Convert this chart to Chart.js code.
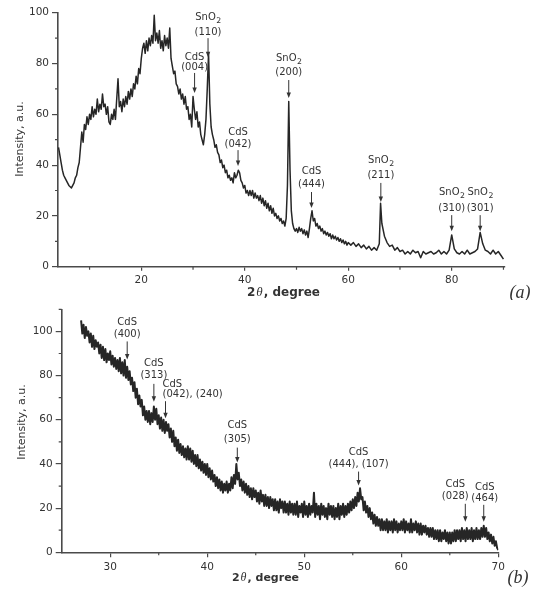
<!DOCTYPE html>
<html>
<head>
<meta charset="utf-8">
<script src="https://cdn.jsdelivr.net/npm/chart.js@4.4.1/dist/chart.umd.min.js"></script>
<style>
  body { margin: 0; background: #fff; }
  #wrap { position: relative; width: 543px; height: 594px; }
  canvas { position: absolute; left: 0; }
</style>
</head>
<body>
<div id="wrap">
  <canvas id="xrdA" width="543" height="300" style="top:0"></canvas>
  <canvas id="xrdB" width="543" height="294" style="top:300px"></canvas>
</div>
<script>
// ---- panel (a): 2theta 4..90 ----
const aTwoTheta = [
  4, 4.25, 4.5, 4.75, 5, 5.25, 5.5, 5.75,
  6, 6.25, 6.5, 6.75, 7, 7.25, 7.5, 7.75,
  8, 8.25, 8.5, 8.75, 9, 9.25, 9.5, 9.75,
  10, 10.25, 10.5, 10.75, 11, 11.25, 11.5, 11.75,
  12, 12.25, 12.5, 12.75, 13, 13.25, 13.5, 13.75,
  14, 14.25, 14.5, 14.75, 15, 15.25, 15.5, 15.75,
  16, 16.25, 16.5, 16.75, 17, 17.25, 17.5, 17.75,
  18, 18.25, 18.5, 18.75, 19, 19.25, 19.5, 19.75,
  20, 20.25, 20.5, 20.75, 21, 21.25, 21.5, 21.75,
  22, 22.25, 22.5, 22.75, 23, 23.25, 23.5, 23.75,
  24, 24.25, 24.5, 24.75, 25, 25.25, 25.5, 25.75,
  26, 26.25, 26.5, 26.75, 27, 27.25, 27.5, 27.75,
  28, 28.25, 28.5, 28.75, 29, 29.25, 29.5, 29.75,
  30, 30.25, 30.5, 30.75, 31, 31.25, 31.5, 31.75,
  32, 32.25, 32.5, 32.75, 33, 33.25, 33.5, 33.75,
  34, 34.25, 34.5, 34.75, 35, 35.25, 35.5, 35.75,
  36, 36.25, 36.5, 36.75, 37, 37.25, 37.5, 37.75,
  38, 38.25, 38.5, 38.75, 39, 39.25, 39.5, 39.75,
  40, 40.25, 40.5, 40.75, 41, 41.25, 41.5, 41.75,
  42, 42.25, 42.5, 42.75, 43, 43.25, 43.5, 43.75,
  44, 44.25, 44.5, 44.75, 45, 45.25, 45.5, 45.75,
  46, 46.25, 46.5, 46.75, 47, 47.25, 47.5, 47.75,
  48, 48.25, 48.5, 48.75, 49, 49.25, 49.5, 49.75,
  50, 50.25, 50.5, 50.75, 51, 51.25, 51.5, 51.75,
  52, 52.25, 52.5, 52.75, 53, 53.25, 53.5, 53.75,
  54, 54.25, 54.5, 54.75, 55, 55.25, 55.5, 55.75,
  56, 56.25, 56.5, 56.75, 57, 57.25, 57.5, 57.75,
  58, 58.25, 58.5, 58.75, 59, 59.25, 59.5, 59.75,
  60, 60.5, 61, 61.5, 62, 62.5, 63, 63.5, 64, 64.5, 65, 65.5, 66, 66.25,
  66.5, 67, 67.5, 68, 68.5, 69, 69.5, 70, 70.5, 71,
  71.5, 72, 72.5, 73, 73.5, 74, 74.5, 75, 75.5, 76,
  76.5, 77, 77.5, 78, 78.5, 79, 79.5, 80, 80.5, 81,
  81.5, 82, 82.5, 83, 83.5, 84, 84.5, 85, 85.5, 86,
  86.5, 87, 87.5, 88, 88.5, 89, 89.5, 90
];
const aIntensity = [
  47, 44, 41, 38, 36, 35, 34, 33,
  32, 31.5, 31, 32, 33, 35, 36, 39,
  41, 47, 53, 49, 56, 54, 59, 56,
  60, 58, 63, 59, 62, 60, 66, 61,
  64, 62, 68, 63, 64, 60, 63, 57,
  56, 60, 58, 62, 58, 66, 74, 63,
  65, 61, 66, 63, 67, 64, 69, 66,
  70, 67, 72, 70, 75, 72, 78, 76,
  82, 86, 88, 84, 89, 85, 90, 87,
  91, 88, 99, 89, 92, 88, 93, 86,
  89, 85, 91, 87, 90, 86, 94, 82,
  79, 76, 77, 72, 71, 68, 70, 66,
  68, 64, 67, 62, 63, 58, 60, 55,
  67, 62, 58, 61, 55, 57, 52, 50,
  48, 52, 58, 70, 84, 64, 55, 52,
  50, 47, 48, 45, 44, 41, 42, 39,
  40, 37, 38, 35, 36, 34, 35, 33,
  37, 35, 36, 38, 37, 34, 33, 31,
  32, 29, 30, 28, 30, 28, 30, 27,
  29, 27, 28, 26, 28, 25, 27, 24,
  26, 23, 25, 22, 24, 21, 23, 20,
  21, 19, 20, 18, 19, 17, 18, 16,
  19, 32, 65, 38, 22, 17, 15, 14,
  15, 13.5, 15.5, 14, 15, 13, 14.5, 12.5,
  14, 11.5, 15, 19, 22, 18, 19, 16,
  17, 15, 16, 14, 15, 13, 14, 12.5,
  13.5, 12, 13, 11, 12.5, 11, 12, 10.5,
  11.5, 10, 11, 9.5, 10.5, 9, 10, 8.5,
  9.5, 8.5, 9.5, 8, 9, 7.5, 8.5, 7, 8, 6.5, 7.5, 6.5, 9, 25,
  17, 12, 9.5, 8, 8.5, 6.5, 7.5, 6, 6.5, 5,
  6, 5, 6.5, 5.5, 6, 3.5, 6, 5, 5.5, 6,
  5, 5.5, 6.5, 5, 6, 5, 6.5, 12.5, 7, 5.5,
  5, 6, 5, 6.5, 5, 5.5, 6, 7, 13.5, 9,
  6.5, 6, 5, 6.5, 5, 6, 4.5, 3
];
const aXTicks = [20, 40, 60, 80];
const aXMinor = [10, 30, 50, 70, 90];
const aYTicks = [0, 20, 40, 60, 80, 100];
const aYMinor = [10, 30, 50, 70, 90];
const aPeakNames = [
  ['SnO_2', '(110)'], ['CdS', '(004)'], ['CdS', '(042)'], ['SnO_2', '(200)'],
  ['CdS', '(444)'], ['SnO_2', '(211)'], ['SnO_2', '(310)'], ['SnO_2', '(301)']
];
const aPeakPos = [32.9, 30.3, 38.7, 48.5, 52.9, 66.3, 80.0, 85.5];
const aPeakTip = [82.5, 68.4, 39.6, 66.4, 23.1, 25.5, 14.0, 14.0];

// ---- panel (b): 2theta 25..70 ----
const bTwoTheta = [
  27, 27.125, 27.25, 27.375, 27.5, 27.625, 27.75, 27.875,
  28, 28.125, 28.25, 28.375, 28.5, 28.625, 28.75, 28.875,
  29, 29.125, 29.25, 29.375, 29.5, 29.625, 29.75, 29.875,
  30, 30.125, 30.25, 30.375, 30.5, 30.625, 30.75, 30.875,
  31, 31.125, 31.25, 31.375, 31.5, 31.625, 31.75, 31.875,
  32, 32.125, 32.25, 32.375, 32.5, 32.625, 32.75, 32.875,
  33, 33.125, 33.25, 33.375, 33.5, 33.625, 33.75, 33.875,
  34, 34.125, 34.25, 34.375, 34.5, 34.625, 34.75, 34.875,
  35, 35.125, 35.25, 35.375, 35.5, 35.625, 35.75, 35.875,
  36, 36.125, 36.25, 36.375, 36.5, 36.625, 36.75, 36.875,
  37, 37.125, 37.25, 37.375, 37.5, 37.625, 37.75, 37.875,
  38, 38.125, 38.25, 38.375, 38.5, 38.625, 38.75, 38.875,
  39, 39.125, 39.25, 39.375, 39.5, 39.625, 39.75, 39.875,
  40, 40.125, 40.25, 40.375, 40.5, 40.625, 40.75, 40.875,
  41, 41.125, 41.25, 41.375, 41.5, 41.625, 41.75, 41.875,
  42, 42.125, 42.25, 42.375, 42.5, 42.625, 42.75, 42.875,
  43, 43.125, 43.25, 43.375, 43.5, 43.625, 43.75, 43.875,
  44, 44.125, 44.25, 44.375, 44.5, 44.625, 44.75, 44.875,
  45, 45.125, 45.25, 45.375, 45.5, 45.625, 45.75, 45.875,
  46, 46.125, 46.25, 46.375, 46.5, 46.625, 46.75, 46.875,
  47, 47.125, 47.25, 47.375, 47.5, 47.625, 47.75, 47.875,
  48, 48.125, 48.25, 48.375, 48.5, 48.625, 48.75, 48.875,
  49, 49.125, 49.25, 49.375, 49.5, 49.625, 49.75, 49.875,
  50, 50.125, 50.25, 50.375, 50.5, 50.625, 50.75, 50.875,
  51, 51.125, 51.25, 51.375, 51.5, 51.625, 51.75, 51.875,
  52, 52.125, 52.25, 52.375, 52.5, 52.625, 52.75, 52.875,
  53, 53.125, 53.25, 53.375, 53.5, 53.625, 53.75, 53.875,
  54, 54.125, 54.25, 54.375, 54.5, 54.625, 54.75, 54.875,
  55, 55.125, 55.25, 55.375, 55.5, 55.625, 55.75, 55.875,
  56, 56.125, 56.25, 56.375, 56.5, 56.625, 56.75, 56.875,
  57, 57.125, 57.25, 57.375, 57.5, 57.625, 57.75, 57.875,
  58, 58.125, 58.25, 58.375, 58.5, 58.625, 58.75, 58.875,
  59, 59.125, 59.25, 59.375, 59.5, 59.625, 59.75, 59.875,
  60, 60.125, 60.25, 60.375, 60.5, 60.625, 60.75, 60.875,
  61, 61.125, 61.25, 61.375, 61.5, 61.625, 61.75, 61.875,
  62, 62.125, 62.25, 62.375, 62.5, 62.625, 62.75, 62.875,
  63, 63.125, 63.25, 63.375, 63.5, 63.625, 63.75, 63.875,
  64, 64.125, 64.25, 64.375, 64.5, 64.625, 64.75, 64.875,
  65, 65.125, 65.25, 65.375, 65.5, 65.625, 65.75, 65.875,
  66, 66.125, 66.25, 66.375, 66.5, 66.625, 66.75, 66.875,
  67, 67.125, 67.25, 67.375, 67.5, 67.625, 67.75, 67.875,
  68, 68.125, 68.25, 68.375, 68.5, 68.625, 68.75, 68.875,
  69, 69.125, 69.25, 69.375, 69.5, 69.625, 69.75, 69.875,
  70
];
const bIntensity = [
  105, 99, 103, 97, 102, 98, 100, 95,
  99, 93, 98, 92, 96, 93, 95, 90,
  94, 88, 93, 87, 92, 86, 90, 87,
  91, 85, 89, 84, 88, 83, 87, 82,
  88, 81, 86, 80, 87, 79, 84, 78,
  82, 76, 79, 73, 77, 70, 74, 67,
  71, 66, 69, 62, 66, 60, 64, 59,
  64, 58, 63, 59, 66, 60, 65, 58,
  62, 56, 61, 55, 60, 54, 59, 55,
  58, 52, 56, 50, 55, 48, 52, 46,
  51, 45, 49, 44, 48, 43, 47, 42,
  48, 42, 47, 41, 46, 40, 44, 39,
  44, 38, 42, 37, 41, 36, 40, 35,
  40, 34, 38, 33, 37, 32, 35, 30,
  34, 29, 33, 28, 32, 27, 31, 28,
  32, 27, 31, 28, 34, 29, 35, 31,
  40, 33, 36, 30, 33, 28, 32, 27,
  31, 26, 30, 25, 29, 24, 29, 25,
  28, 23, 27, 22, 28, 23, 26, 21,
  26, 21, 25, 20, 25, 21, 24, 19,
  24, 19, 23, 18, 24, 20, 23, 18,
  23, 18, 22, 17, 23, 18, 22, 17,
  22, 17, 23, 16, 21, 18, 22, 16,
  23, 17, 21, 16, 22, 17, 21, 18,
  27, 16, 22, 17, 21, 15, 22, 17,
  21, 16, 20, 15, 22, 17, 21, 16,
  21, 15, 20, 16, 22, 15, 21, 17,
  22, 16, 21, 17, 22, 18, 23, 19,
  24, 20, 25, 21, 27, 23, 29, 24,
  25, 19, 23, 18, 21, 16, 20, 15,
  18, 13, 17, 12, 16, 12, 15, 10,
  15, 10, 14, 10, 15, 9, 14, 10,
  14, 9, 15, 10, 14, 9, 13, 10,
  14, 10, 15, 9, 14, 10, 13, 9,
  15, 9, 13, 10, 14, 9, 13, 8,
  13, 8, 12, 9, 12, 8, 11, 7,
  11, 7, 11, 6, 10, 6, 10, 5,
  10, 5, 9, 6, 10, 5, 9, 4,
  9, 4, 9, 5, 10, 5, 10, 6,
  10, 5, 11, 6, 10, 5, 11, 6,
  10, 6, 11, 5, 10, 6, 11, 6,
  10, 6, 11, 7, 12, 7, 11, 6,
  9, 5, 8, 4, 7, 3, 5, 2,
  1
];
const bXTicks = [30, 40, 50, 60, 70];
const bXMinor = [35, 45, 55, 65];
const bYTicks = [0, 20, 40, 60, 80, 100];
const bYMinor = [10, 30, 50, 70, 90, 110];
const bPeakNames = [
  ['CdS', '(400)'], ['CdS', '(313)'], ['CdS', '(042), (240)'], ['CdS', '(305)'],
  ['CdS', '(444), (107)'], ['CdS', '(028)'], ['CdS', '(464)']
];
const bPeakPos = [31.75, 34.5, 35.7, 43.1, 55.6, 66.6, 68.5];
const bPeakTip = [87.3, 68.1, 60.7, 40.6, 30.2, 13.8, 13.8];

// label layout (pixels): arrow length, gap above arrow, line spacing, text shift
const aPeakLayout = [
  {len: 19, gap: 6, sp: 15}, {len: 20, gap: 6, sp: 10}, {len: 16, gap: 6, sp: 12},
  {len: 18, gap: 8, sp: 14}, {len: 16, gap: 8, sp: 13}, {len: 19, gap: 8, sp: 15},
  {len: 16, gap: 7, sp: 16}, {len: 16, gap: 7, sp: 16}
];
const bPeakLayout = [
  {len: 18, gap: 7, sp: 12.5}, {len: 18, gap: 8, sp: 12.5},
  {len: 17, gap: 7, sp: 10, align: 'left', dx: -3}, {len: 15, gap: 8, sp: 14},
  {len: 14, gap: 7, sp: 12.5}, {len: 18, gap: 7, sp: 12.5, dx: -10},
  {len: 17, gap: 6, sp: 11, dx: 1}
];

const AXIS = '#4a4a4a';
const INK = '#333';
const SANS = '"DejaVu Sans", sans-serif';

function drawSub(ctx, str, x, y, size, align) {
  const [main, sub] = str.split('_');
  ctx.font = size + 'px ' + SANS;
  const wm = ctx.measureText(main).width;
  ctx.font = (size * 0.78) + 'px ' + SANS;
  const ws = sub ? ctx.measureText(sub).width : 0;
  const x0 = align === 'left' ? x : x - (wm + ws) / 2;
  ctx.textAlign = 'left';
  ctx.textBaseline = 'middle';
  ctx.font = size + 'px ' + SANS;
  ctx.fillText(main, x0, y);
  if (sub) {
    ctx.font = (size * 0.78) + 'px ' + SANS;
    ctx.fillText(sub, x0 + wm + 0.5, y + size * 0.38);
  }
}

const decor = {
  id: 'decor',
  afterDraw(chart, args, o) {
    const ctx = chart.ctx, xs = chart.scales.x, ys = chart.scales.y, ar = chart.chartArea;
    ctx.save();
    // minor ticks
    ctx.strokeStyle = AXIS;
    ctx.lineWidth = 1.2;
    ctx.beginPath();
    o.minorX.forEach(v => {
      const px = xs.getPixelForValue(v);
      ctx.moveTo(px, ar.bottom); ctx.lineTo(px, ar.bottom + 3);
    });
    o.minorY.forEach(v => {
      const py = ys.getPixelForValue(v);
      ctx.moveTo(ar.left - 3, py); ctx.lineTo(ar.left, py);
    });
    ctx.stroke();

    // peak labels with arrows
    ctx.fillStyle = INK;
    ctx.strokeStyle = INK;
    o.names.forEach((lines, i) => {
      const L = o.layout[i];
      const px = xs.getPixelForValue(o.pos[i]);
      const tip = ys.getPixelForValue(o.tip[i]);
      const top = tip - L.len;
      ctx.lineWidth = 1;
      ctx.beginPath();
      ctx.moveTo(px, top); ctx.lineTo(px, tip - 4);
      ctx.stroke();
      ctx.beginPath();
      ctx.moveTo(px - 2.2, tip - 5.5); ctx.lineTo(px + 2.2, tip - 5.5); ctx.lineTo(px, tip);
      ctx.closePath(); ctx.fill();
      const tx = px + (L.dx || 0);
      const y2 = top - L.gap;
      drawSub(ctx, lines[1], tx, y2, 10, L.align);
      drawSub(ctx, lines[0], tx, y2 - L.sp, 10, L.align);
    });

    // y title
    ctx.fillStyle = INK;
    ctx.save();
    ctx.translate(o.yTitle.x, o.yTitle.y);
    ctx.rotate(-Math.PI / 2);
    ctx.font = '11px ' + SANS;
    ctx.textAlign = 'center';
    ctx.textBaseline = 'middle';
    ctx.fillText('Intensity, a.u.', 0, 0);
    ctx.restore();

    // x title: 2θ, degree
    const fs = o.xTitle.size;
    const parts = [
      ['2', 'bold ' + fs + 'px ' + SANS],
      ['\u03B8', 'italic ' + (fs + 1) + 'px "Liberation Serif", serif'],
      [', degree', 'bold ' + fs + 'px ' + SANS]
    ];
    let tw = 0;
    parts.forEach(p => { ctx.font = p[1]; tw += ctx.measureText(p[0]).width + 1; });
    let cx = o.xTitle.x - tw / 2;
    ctx.textAlign = 'left';
    ctx.textBaseline = 'middle';
    parts.forEach(p => { ctx.font = p[1]; ctx.fillText(p[0], cx, o.xTitle.y); cx += ctx.measureText(p[0]).width + 1; });

    // panel letter
    ctx.font = 'italic 18px "Liberation Serif", serif';
    ctx.textAlign = 'center';
    ctx.fillText(o.letter.text, o.letter.x, o.letter.y);
    ctx.restore();
  }
};

function axis(min, max, ticks, tickLen, pad, fit) {
  return {
    type: 'linear', min, max,
    afterBuildTicks: s => { s.ticks = ticks.map(v => ({value: v})); },
    afterFit: fit,
    grid: {display: true, drawOnChartArea: false, drawTicks: true, tickLength: tickLen, color: AXIS, lineWidth: 1.2},
    border: {display: true, color: AXIS, width: 1.6},
    ticks: {color: INK, font: {family: 'DejaVu Sans', size: 10.5}, padding: pad, maxRotation: 0, autoSkip: false}
  };
}

function makeChart(id, xv, yv, sc, deco, padding, lw) {
  return new Chart(document.getElementById(id), {
    type: 'line',
    data: {
      datasets: [{
        data: xv.map((t, i) => ({x: t, y: yv[i]})),
        borderColor: '#262626',
        borderWidth: lw,
        borderJoinStyle: 'round',
        pointRadius: 0,
        tension: 0,
        fill: false
      }]
    },
    options: {
      responsive: false,
      animation: false,
      layout: {padding},
      plugins: {legend: {display: false}, tooltip: {enabled: false}, decor: deco},
      scales: sc
    },
    plugins: [decor]
  });
}

makeChart('xrdA', aTwoTheta, aIntensity, {
  x: axis(3.9, 90.3, aXTicks, 4, 3, s => { s.height = 33.3; }),
  y: axis(0, 100, aYTicks, 6, 3, s => { s.width = 58; })
}, {
  minorX: aXMinor, minorY: aYMinor,
  names: aPeakNames, pos: aPeakPos, tip: aPeakTip, layout: aPeakLayout,
  yTitle: {x: 20, y: 139}, xTitle: {x: 284, y: 293, size: 12},
  letter: {text: '(a)', x: 520, y: 293}
}, {left: 0, right: 38, top: 12.7, bottom: 0}, 1.5);

makeChart('xrdB', bTwoTheta, bIntensity, {
  x: axis(25, 70, bXTicks, 5, 4, s => { s.height = 41.7; }),
  y: axis(0, 110, bYTicks, 6, 3, s => { s.width = 61.7; })
}, {
  minorX: bXMinor, minorY: bYMinor,
  names: bPeakNames, pos: bPeakPos, tip: bPeakTip, layout: bPeakLayout,
  yTitle: {x: 22, y: 122}, xTitle: {x: 266, y: 278, size: 11},
  letter: {text: '(b)', x: 518, y: 278}
}, {left: 0, right: 44.7, top: 8, bottom: 0}, 2.0);
</script>
</body>
</html>
